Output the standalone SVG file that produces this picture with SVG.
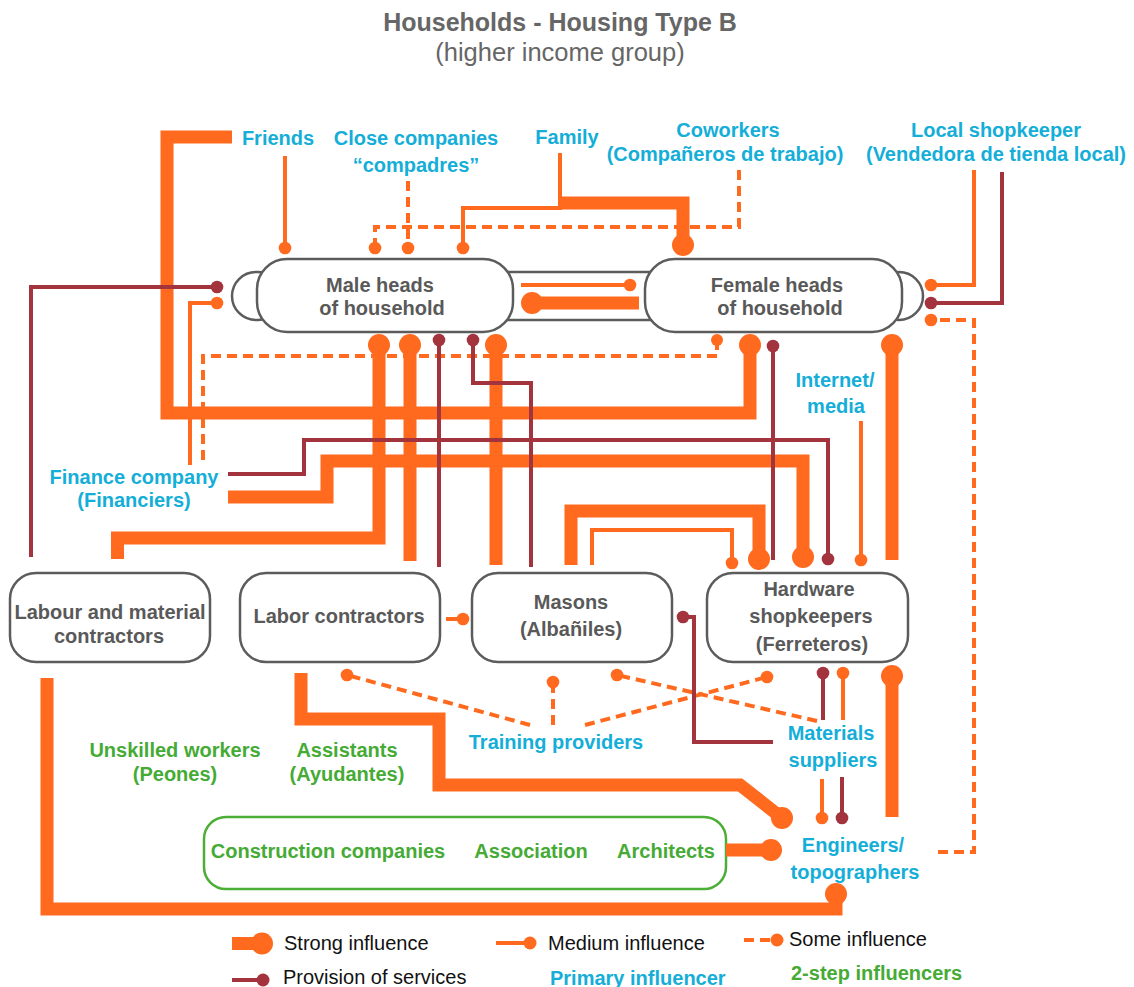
<svg xmlns="http://www.w3.org/2000/svg" width="1134" height="987" viewBox="0 0 1134 987">
<style>
.s{stroke:#FF6A1F;stroke-width:13;fill:none;stroke-linejoin:miter;stroke-linecap:butt}
.m{stroke:#FF6A1F;stroke-width:4;fill:none}
.d{stroke:#FF6A1F;stroke-width:4;fill:none;stroke-dasharray:10 6}
.p{stroke:#A3333D;stroke-width:4;fill:none}
.o{fill:#FF6A1F}
.r{fill:#A3333D}
.box{fill:#fff;stroke:#5c5c5c;stroke-width:2.5}
.gbox{fill:none;stroke:#4BAE35;stroke-width:2.5}
.t{font-family:"Liberation Sans",Arial,sans-serif;font-weight:bold;font-size:20px;text-anchor:middle}
.n{fill:#595959}
.c{fill:#14AED8}
.g{fill:#45AB35}
.lg{font-family:"Liberation Sans",Arial,sans-serif;font-size:20px;fill:#111}
</style>
<rect width="1134" height="987" fill="#fff"/>
<g id="title">
<text x="560" y="31" class="t" style="font-size:25px;fill:#666">Households - Housing Type B</text>
<text x="560" y="61" class="t" style="font-size:25.5px;font-weight:normal;fill:#666">(higher income group)</text>
</g>
<g id="heads-link">
<rect x="232" y="272" width="50" height="48" rx="24" class="box"/>
<rect x="875" y="272" width="48" height="48" rx="24" class="box"/>
<rect x="490" y="272" width="180" height="48" class="box"/>
</g>
<g id="male-heads">
<rect x="257" y="259" width="256" height="73" rx="30" class="box"/>
<text x="380" y="292" class="t n">Male heads</text>
<text x="382" y="315" class="t n">of household</text>
</g>
<g id="female-heads">
<rect x="645" y="259" width="257" height="73" rx="30" class="box"/>
<text x="777" y="292" class="t n">Female heads</text>
<text x="780" y="315" class="t n">of household</text>
</g>
<g id="labour-material">
<rect x="10" y="573" width="200" height="89" rx="26" class="box"/>
<text x="110" y="619" class="t n">Labour and material</text>
<text x="109" y="643" class="t n">contractors</text>
</g>
<g id="labor-contractors">
<rect x="240" y="573" width="200" height="89" rx="26" class="box"/>
<text x="339" y="623" class="t n">Labor contractors</text>
</g>
<g id="masons">
<rect x="472" y="573" width="200" height="89" rx="26" class="box"/>
<text x="571" y="609" class="t n">Masons</text>
<text x="571" y="636" class="t n">(Albañiles)</text>
</g>
<g id="hardware">
<rect x="707" y="573" width="201" height="89" rx="26" class="box"/>
<text x="809" y="596" class="t n">Hardware</text>
<text x="811" y="623" class="t n">shopkeepers</text>
<text x="812" y="651" class="t n">(Ferreteros)</text>
</g>
<g id="friends"><text x="278" y="145" class="t c">Friends</text></g>
<g id="close-companies"><text x="416" y="145" class="t c">Close companies</text><text x="416" y="172" class="t c">“compadres”</text></g>
<g id="family"><text x="567" y="144" class="t c">Family</text></g>
<g id="coworkers"><text x="728" y="137" class="t c">Coworkers</text><text x="725" y="161" class="t c">(Compañeros de trabajo)</text></g>
<g id="local-shopkeeper"><text x="996" y="137" class="t c">Local shopkeeper</text><text x="996" y="161" class="t c">(Vendedora de tienda local)</text></g>
<g id="internet"><text x="835" y="387" class="t c">Internet/</text><text x="836" y="413" class="t c">media</text></g>
<g id="finance"><text x="134" y="484" class="t c">Finance company</text><text x="134" y="507" class="t c">(Financiers)</text></g>
<g id="training"><text x="556" y="749" class="t c">Training providers</text></g>
<g id="materials"><text x="831" y="740" class="t c">Materials</text><text x="833" y="767" class="t c">suppliers</text></g>
<g id="engineers"><text x="853" y="852" class="t c">Engineers/</text><text x="855" y="879" class="t c">topographers</text></g>
<g id="unskilled"><text x="175" y="757" class="t g">Unskilled workers</text><text x="175" y="781" class="t g">(Peones)</text></g>
<g id="assistants"><text x="347" y="757" class="t g">Assistants</text><text x="347" y="781" class="t g">(Ayudantes)</text></g>
<g id="construction-group">
<rect x="204" y="817" width="522" height="72" rx="22" class="gbox"/>
<text x="328" y="858" class="t g">Construction companies</text>
<text x="531" y="858" class="t g">Association</text>
<text x="666" y="858" class="t g">Architects</text>
</g>
<g id="connectors">
<path class="s" d="M232,137H167V413H750V345"/><circle class="o" cx="750" cy="345" r="11"/>
<path class="s" d="M559,203H683V245"/><circle class="o" cx="683" cy="245" r="11"/>
<path class="s" d="M532,303H639"/><circle class="o" cx="532" cy="303" r="11"/>
<path class="s" d="M228,497H327V461H803V557"/><circle class="o" cx="803" cy="557" r="11"/>
<path class="s" d="M117.5,559V538H379V345"/><circle class="o" cx="379" cy="345" r="11"/>
<path class="s" d="M410,561V345"/><circle class="o" cx="410" cy="345" r="11"/>
<path class="s" d="M496,565V345"/><circle class="o" cx="496" cy="345" r="11"/>
<path class="s" d="M892,560V345"/><circle class="o" cx="892" cy="345" r="11"/>
<path class="s" d="M571,565V511H759V559"/><circle class="o" cx="759" cy="559" r="11"/>
<path class="s" d="M892,817V676"/><circle class="o" cx="892" cy="676" r="11"/>
<path class="s" d="M301,673V719H439V785H740L782,818"/><circle class="o" cx="782" cy="818" r="11"/>
<path class="s" d="M47,678V909H836V894"/><circle class="o" cx="836" cy="894" r="11"/>
<path class="s" d="M726,850H771"/><circle class="o" cx="771" cy="850" r="11"/>
<path class="m" d="M285,156V248"/><circle class="o" cx="285" cy="248" r="6.3"/>
<path class="m" d="M560,153V208H463V248"/><circle class="o" cx="463" cy="248" r="6.3"/>
<path class="m" d="M974,170V285H931"/><circle class="o" cx="931" cy="285" r="6.3"/>
<path class="m" d="M521,285H630"/><circle class="o" cx="630" cy="285" r="6.3"/>
<path class="m" d="M190,465V303H217"/><circle class="o" cx="217" cy="303" r="6.3"/>
<path class="m" d="M861,421V560"/><circle class="o" cx="861" cy="560" r="6.3"/>
<path class="m" d="M592,565V530H732V563"/><circle class="o" cx="732" cy="563" r="6.3"/>
<path class="m" d="M446,619H463"/><circle class="o" cx="463" cy="619" r="6.3"/>
<path class="m" d="M843,720V673"/><circle class="o" cx="843" cy="673" r="6.3"/>
<path class="m" d="M822,779V818"/><circle class="o" cx="822" cy="818" r="6.3"/>
<path class="d" d="M408,181V248"/><circle class="o" cx="408" cy="248" r="6.3"/>
<path class="d" d="M739,170V227H375V248"/><circle class="o" cx="375" cy="248" r="6.3"/>
<path class="d" d="M938,852H974V320H931"/><circle class="o" cx="931" cy="320" r="6.3"/>
<path class="d" d="M203,460V356H717V340"/><circle class="o" cx="717" cy="340" r="6"/>
<path class="d" d="M530,725L347,675"/><circle class="o" cx="347" cy="675" r="6.3"/>
<path class="d" d="M553,725V682"/><circle class="o" cx="553" cy="682" r="6.3"/>
<path class="d" d="M585,725L767,677"/><circle class="o" cx="767" cy="677" r="6.3"/>
<path class="d" d="M817,721L617,675"/><circle class="o" cx="617" cy="675" r="6.3"/>
<path class="p" d="M1002,172V303H931"/><circle class="r" cx="931" cy="303" r="6.3"/>
<path class="p" d="M31,557V287H217"/><circle class="r" cx="217" cy="287" r="6.3"/>
<path class="p" d="M228,474H304V440H828V559"/><circle class="r" cx="828" cy="559" r="6.3"/>
<path class="p" d="M439,567V340"/><circle class="r" cx="439" cy="340" r="6.3"/>
<path class="p" d="M531,567V383H473V340"/><circle class="r" cx="473" cy="340" r="6.3"/>
<path class="p" d="M773,560V346"/><circle class="r" cx="773" cy="346" r="6.3"/>
<path class="p" d="M773,742H694V617H683"/><circle class="r" cx="683" cy="617" r="6.3"/>
<path class="p" d="M823,720V673"/><circle class="r" cx="823" cy="673" r="6.3"/>
<path class="p" d="M842,777V818"/><circle class="r" cx="842" cy="818" r="6.3"/>
</g>
<g id="legend">
<path class="s" d="M232,943.5H262"/><circle class="o" cx="262" cy="943.5" r="11"/>
<text x="284" y="950" class="lg">Strong influence</text>
<path class="m" d="M496,943H530"/><circle class="o" cx="530" cy="943" r="6.5"/>
<text x="548" y="950" class="lg">Medium influence</text>
<path class="d" d="M744,940H777"/><circle class="o" cx="777" cy="940" r="6.5"/>
<text x="789" y="946" class="lg">Some influence</text>
<path class="p" d="M232,980H263"/><circle class="r" cx="263" cy="980" r="6.5"/>
<text x="283" y="984" class="lg">Provision of services</text>
<text x="550" y="985" class="t c" style="text-anchor:start">Primary influencer</text>
<text x="791" y="980" class="t g" style="text-anchor:start">2-step influencers</text>
</g>
</svg>
